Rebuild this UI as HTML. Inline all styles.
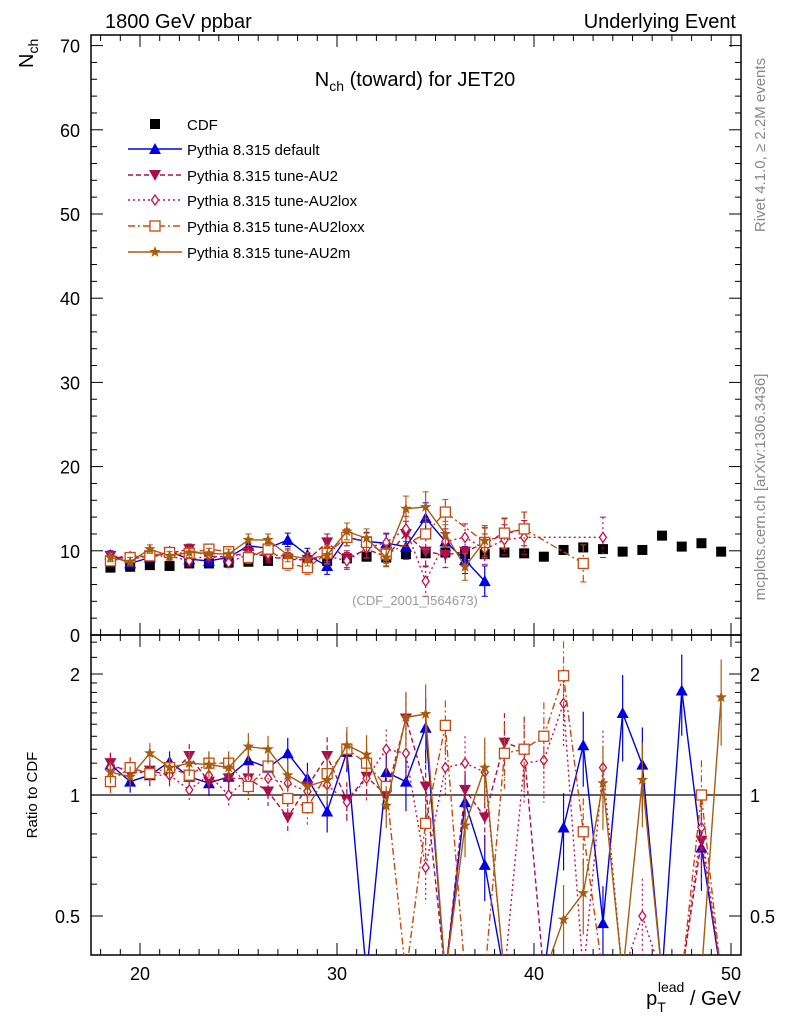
<!DOCTYPE html>
<html><head><meta charset="utf-8"><style>
html,body{margin:0;padding:0;background:#fff;width:786px;height:1024px;overflow:hidden}
svg{display:block}
svg text{font-family:"Liberation Sans",sans-serif}
</style></head><body>
<svg id="c" width="786" height="1024" viewBox="0 0 786 1024" overflow="hidden" xmlns="http://www.w3.org/2000/svg">
<defs>
<clipPath id="mainClip"><rect x="91" y="35" width="650" height="600"/></clipPath>
<clipPath id="ratioClip"><rect x="91" y="635" width="650" height="320"/></clipPath>
</defs>
<g id="axes"></g>
<g id="marks"></g>
<g id="labels">
<text x="105" y="28" font-size="20">1800 GeV ppbar</text>
<text x="736" y="28" font-size="20" text-anchor="end">Underlying Event</text>
<text x="415" y="86" font-size="20" text-anchor="middle">N<tspan font-size="14" dy="5">ch</tspan><tspan dy="-5"> (toward) for JET20</tspan></text>
<text x="415" y="605" font-size="13" fill="#999" text-anchor="middle">(CDF_2001_I564673)</text>
<text transform="translate(765,145) rotate(-90)" font-size="15" fill="#888" text-anchor="middle">Rivet 4.1.0, ≥ 2.2M events</text>
<text transform="translate(765,487) rotate(-90)" font-size="15" fill="#888" text-anchor="middle">mcplots.cern.ch [arXiv:1306.3436]</text>
<text transform="translate(33,68) rotate(-90)" font-size="20">N<tspan font-size="14" dy="5">ch</tspan></text>
<text transform="translate(37,795) rotate(-90)" font-size="15" text-anchor="middle">Ratio to CDF</text>
<text x="741" y="1005" font-size="20" text-anchor="end">p<tspan font-size="14" dy="7">T</tspan><tspan font-size="14" dx="-8" dy="-20">lead</tspan><tspan dy="13"> / GeV</tspan></text>
</g>
<g id="legend"></g>
</svg>
<script>
const bins=[18.5,19.5,20.5,21.5,22.5,23.5,24.5,25.5,26.5,27.5,28.5,29.5,30.5,31.5,32.5,33.5,34.5,35.5,36.5,37.5,38.5,39.5,40.5,41.5,42.5,43.5,44.5,45.5,46.5,47.5,48.5,49.5];
const cdf=[8.0,8.1,8.3,8.2,8.5,8.5,8.6,8.7,8.8,8.7,8.6,8.8,9.1,9.3,9.2,9.6,9.7,9.8,9.6,9.6,9.8,9.7,9.3,10.1,10.4,10.2,9.9,10.1,11.8,10.5,10.9,9.9];
const _=null;
const mcDefault=[9.5,8.5,9.2,9.9,9.0,8.8,9.2,10.6,10.3,11.3,9.5,8.2,11.6,11.1,10.9,10.5,13.9,11.1,8.9,6.4,_,_,_,_,_,_,_,_,_,_,_,_];
const mcAU2=[9.4,9.0,9.4,9.7,10.2,9.3,9.3,9.8,9.3,9.0,8.9,11.0,9.0,10.2,9.3,12.0,9.9,9.5,9.9,10.9,12.0,12.6,_,_,_,_,_,_,_,_,_,_];
const mcAU2lox=[9.3,9.3,9.4,9.4,8.8,9.5,8.6,9.6,9.6,9.3,8.8,9.4,8.8,10.3,11.0,12.6,6.4,11.1,11.6,10.2,11.3,11.6,_,_,_,11.6,_,_,_,_,_,_];
const mcAU2loxx=[8.8,9.2,9.4,9.8,9.7,10.2,9.9,9.2,10.2,8.5,8.0,9.7,11.6,11.0,9.6,_,12.0,14.6,_,11.0,12.1,12.6,_,_,8.5,_,_,_,_,_,_,_];
const mcAU2m=[9.2,8.7,10.2,9.4,9.8,9.7,9.6,11.3,11.3,9.5,9.0,9.5,12.3,11.5,9.2,15.0,15.2,12.0,8.1,11.2,_,_,_,_,_,_,_,_,_,_,_,_];
const rDefault=[1.19,1.08,1.12,1.21,1.11,1.07,1.11,1.22,1.17,1.27,1.1,0.91,1.28,0,1.14,1.08,1.47,0,0.96,0.67,0,0,0,0.83,1.33,0.48,1.6,1.19,0,1.82,0.74,0];
const rAU2=[1.2,1.13,1.15,1.12,1.25,1.08,1.1,1.1,1.02,0.88,1.05,1.25,0.97,1.11,1.0,1.55,1.05,0,1.03,0.88,1.35,1.3,0,0,0,0,0,0,0,0,0.77,0];
const rAU2lox=[1.17,1.16,1.12,1.12,1.03,1.12,1.0,1.1,1.1,1.07,1.02,1.06,0.96,1.1,1.3,1.27,0.66,1.17,1.2,1.14,0,1.2,1.22,1.69,0,1.17,0,0.5,0,0,0.83,0];
const rAU2loxx=[1.08,1.17,1.13,1.17,1.12,1.2,1.2,1.05,1.18,0.98,0.93,1.13,1.3,1.2,1.05,0,0.85,1.49,0,0,1.27,1.3,1.4,1.98,0.81,0,0,0,0,0,1.0,0];
const rAU2m=[1.14,1.11,1.27,1.17,1.2,1.19,1.17,1.32,1.3,1.12,1.05,1.09,1.33,1.26,0.94,1.56,1.59,0,0.84,1.17,0,0,0,0.49,0.57,1.07,0,1.09,0,0,0,1.75];
const errMain=[0.5,0.5,0.5,0.5,0.6,0.6,0.6,0.7,0.7,0.8,0.8,1.0,1.0,1.1,1.1,1.5,1.8,1.5,1.6,1.8,1.8,2.0,2.0,2.2,2.2,2.4,2.4,2.4,2.4,2.4,2.4,2.4];
const mainTicks=[0,10,20,30,40,50,60,70];
const ratioTicks=[0.5,1,2];
const xTicks=[20,30,40,50];

const NS="http://www.w3.org/2000/svg";
const X=v=>140+(v-20)*19.7;
const Y=v=>635-8.42*v;
const R=v=>v<=0?975:Math.min(975,795-121*Math.log2(v));
const L1=91,R1=741;
function el(tag,at,parent){const e=document.createElementNS(NS,tag);for(const k in at)e.setAttribute(k,at[k]);parent.appendChild(e);return e;}
const axes=document.getElementById('axes'),marks=document.getElementById('marks'),leg=document.getElementById('legend');

let f1=el('rect',{x:91,y:35,width:650,height:600,fill:'none',stroke:'#000','stroke-width':1.5},axes);


let f2=el('rect',{x:91,y:635,width:650,height:320,fill:'none',stroke:'#000','stroke-width':1.5},axes);


let ul=el('line',{x1:91,x2:741,y1:R(1),y2:R(1),stroke:'#000','stroke-width':1.3},axes);



for(let v=18;v<=50;v++){
  const x=X(v),maj=v%10===0,len=maj?12:6;
  [[955,-1],[635,1],[635,-1],[35,1]].forEach(([y,d])=>{el('line',{x1:x,x2:x,y1:y,y2:y+d*len,stroke:'#000','stroke-width':1},axes);});
}
xTicks.forEach(v=>{const t=el('text',{x:X(v),y:980,'font-size':18,'text-anchor':'middle'},axes);t.textContent=v;

});
for(let v=0;v<=70;v+=2){const y=Y(v),len=v%10===0?12:6;
 el('line',{x1:L1,x2:L1+len,y1:y,y2:y,stroke:'#000'},axes);el('line',{x1:R1,x2:R1-len,y1:y,y2:y,stroke:'#000'},axes);}
mainTicks.forEach(v=>{const t=el('text',{x:80,y:Y(v)+7,'font-size':18,'text-anchor':'end'},axes);t.textContent=v;

});
[0.4,0.5,0.6,0.7,0.8,0.9,1,1.1,1.2,1.3,1.4,1.5,1.6,1.7,1.8,1.9,2,2.2,2.4].forEach(v=>{const y=R(v),len=(v===0.5||v===1||v===2)?12:6;
 el('line',{x1:L1,x2:L1+len,y1:y,y2:y,stroke:'#000'},axes);el('line',{x1:R1,x2:R1-len,y1:y,y2:y,stroke:'#000'},axes);});
ratioTicks.forEach(v=>{let t=el('text',{x:80,y:R(v)+7,'font-size':18,'text-anchor':'end'},axes);t.textContent=v;


t=el('text',{x:750,y:R(v)+7,'font-size':18},axes);t.textContent=v;

});

function marker(type,x,y,color,g){
  if(type==='sq') return el('rect',{x:x-5,y:y-5,width:10,height:10,fill:color},g);
  if(type==='tu') return el('polygon',{points:`${x},${y-6} ${x-6},${y+5} ${x+6},${y+5}`,fill:color},g);
  if(type==='td') return el('polygon',{points:`${x},${y+6} ${x-6},${y-5} ${x+6},${y-5}`,fill:color},g);
  if(type==='di') return el('polygon',{points:`${x},${y-5} ${x-3.5},${y} ${x},${y+5} ${x+3.5},${y}`,fill:'#fff',stroke:color,'stroke-width':1.3},g);
  if(type==='os') return el('rect',{x:x-5,y:y-5,width:10,height:10,fill:'#fff',stroke:color,'stroke-width':1.3},g);
  if(type==='st'){let p=[];for(let i=0;i<10;i++){const r=i%2?2.5:6,a=-Math.PI/2+i*Math.PI/5;p.push((x+r*Math.cos(a)).toFixed(1)+','+(y+r*Math.sin(a)).toFixed(1));}
    return el('polygon',{points:p.join(' '),fill:color},g);}
}
const series=[
 {name:'Pythia 8.315 default',main:mcDefault,ratio:rDefault,color:'#0000e6',dash:'',m:'tu',key:'default'},
 {name:'Pythia 8.315 tune-AU2',main:mcAU2,ratio:rAU2,color:'#a8104e',dash:'5,3',m:'td',key:'au2'},
 {name:'Pythia 8.315 tune-AU2lox',main:mcAU2lox,ratio:rAU2lox,color:'#c8104a',dash:'2,3',m:'di',key:'au2lox'},
 {name:'Pythia 8.315 tune-AU2loxx',main:mcAU2loxx,ratio:rAU2loxx,color:'#c84a10',dash:'7,3,2,3',m:'os',key:'au2loxx'},
 {name:'Pythia 8.315 tune-AU2m',main:mcAU2m,ratio:rAU2m,color:'#a85c10',dash:'',m:'st',key:'au2m'}
];
const gc=el('g',{'clip-path':'url(#mainClip)'},marks);


cdf.forEach((v,i)=>{const m=marker('sq',X(bins[i]),Y(v),'#000',gc);

});

series.forEach(s=>{
  const gm=el('g',{'clip-path':'url(#mainClip)'},marks);
  
  
  const pts=[];s.main.forEach((v,i)=>{if(v!==null)pts.push([X(bins[i]),Y(v),errMain[i]*8.42]);});
  el('polyline',{points:pts.map(p=>p[0].toFixed(1)+','+p[1].toFixed(1)).join(' '),fill:'none',stroke:s.color,'stroke-width':1.4,'stroke-dasharray':s.dash},gm);
  pts.forEach(p=>{el('line',{x1:p[0],x2:p[0],y1:p[1]-p[2],y2:p[1]+p[2],stroke:s.color,'stroke-width':1.2,'stroke-dasharray':s.dash},gm);
    el('line',{x1:p[0]-3,x2:p[0]+3,y1:p[1]-p[2],y2:p[1]-p[2],stroke:s.color},gm);
    el('line',{x1:p[0]-3,x2:p[0]+3,y1:p[1]+p[2],y2:p[1]+p[2],stroke:s.color},gm);
    const m=marker(s.m,p[0],p[1],s.color,gm);
    
    });
  const gr=el('g',{'clip-path':'url(#ratioClip)'},marks);
  
  
  const rp=s.ratio.map((v,i)=>[X(bins[i]),R(v),v,errMain[i]/cdf[i]]);
  el('polyline',{points:rp.map(p=>p[0].toFixed(1)+','+p[1].toFixed(1)).join(' '),fill:'none',stroke:s.color,'stroke-width':1.4,'stroke-dasharray':s.dash},gr);
  rp.forEach(p=>{if(p[2]<=0)return;
    const y1=R(p[2]*(1+p[3])),y2=R(Math.max(0.05,p[2]*(1-p[3])));
    el('line',{x1:p[0],x2:p[0],y1:y1,y2:y2,stroke:s.color,'stroke-width':1.2,'stroke-dasharray':s.dash},gr);
    const m=marker(s.m,p[0],p[1],s.color,gr);
    
    });
});

const ly=[124,149,175,200,226,252];
const lt=el('text',{x:187,y:ly[0]+6,'font-size':15},leg);lt.textContent='CDF';


marker('sq',155,ly[0],'#000',leg);
series.forEach((s,i)=>{const y=ly[i+1];
  el('line',{x1:128,x2:182,y1:y,y2:y,stroke:s.color,'stroke-width':1.4,'stroke-dasharray':s.dash},leg);
  marker(s.m,155,y,s.color,leg);
  const t=el('text',{x:187,y:y+6,'font-size':15},leg);t.textContent=s.name;
  
  
});
</script>
</body></html>
